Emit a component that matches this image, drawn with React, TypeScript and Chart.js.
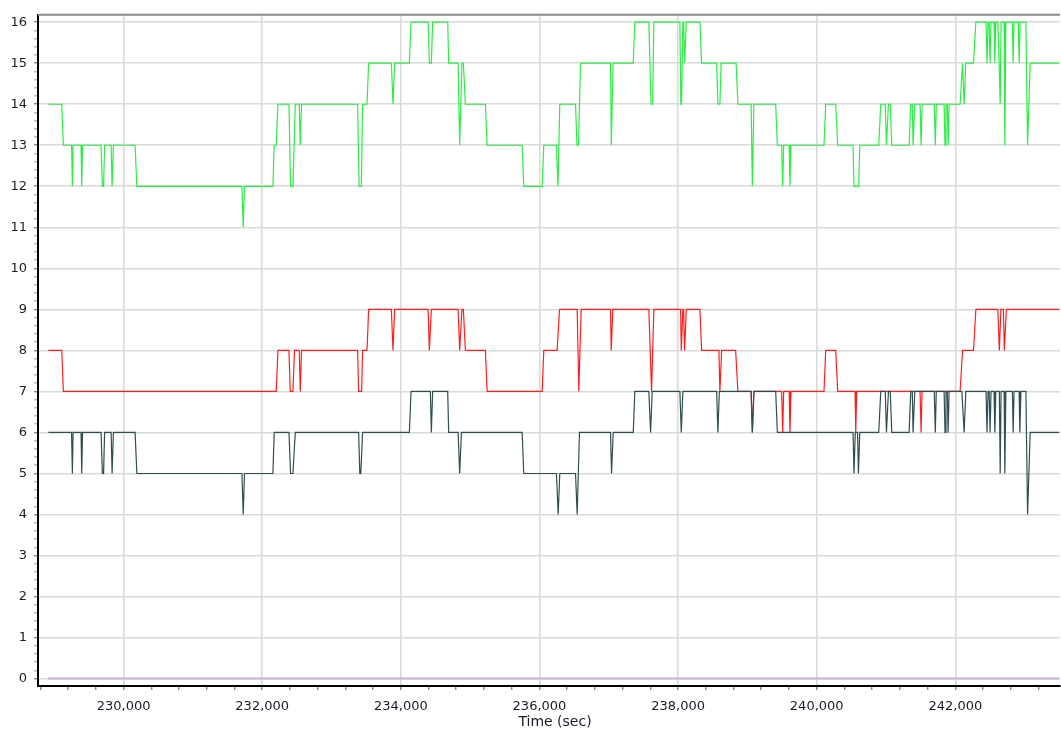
import React, { useEffect, useRef } from "react";
import { Chart, registerables } from "chart.js";

Chart.register(...registerables);

// ---- Data (time in seconds) ----
const greenTimes = [
  228914, 229108, 229131, 229249, 229261, 229271, 229386, 229396, 229408, 229675,
  229694, 229711, 229726, 229820, 229834, 229853, 230166, 230191, 231707, 231726,
  231744, 232154, 232173, 232202, 232227, 232386, 232409, 232443, 232477, 232534,
  232549, 232567, 233376, 233398, 233430, 233448, 233512, 233535, 233863, 233887,
  233910, 234123, 234147, 234393, 234411, 234440, 234459, 234676, 234690, 234826,
  234849, 234881, 234902, 234931, 235220, 235245, 235750, 235773, 236039, 236062,
  236245, 236267, 236293, 236520, 236541, 236563, 236592, 237025, 237037, 237061,
  237353, 237376, 237578, 237610, 237632, 237650, 238026, 238040, 238050, 238069,
  238079, 238094, 238118, 238315, 238339, 238556, 238574, 238603, 238621, 238837,
  238863, 239054, 239071, 239094, 239408, 239432, 239494, 239509, 239523, 239603,
  239614, 239629, 240105, 240130, 240274, 240303, 240524, 240538, 240606, 240621,
  240895, 240924, 240989, 241006, 241035, 241061, 241083, 241333, 241357, 241379,
  241390, 241415, 241491, 241506, 241520, 241696, 241711, 241725, 241838, 241851,
  241865, 241884, 241896, 241910, 242069, 242104, 242127, 242151, 242262, 242296,
  242443, 242457, 242472, 242488, 242501, 242515, 242558, 242570, 242584, 242613,
  242632, 242647, 242660, 242704, 242714, 242729, 242823, 242834, 242847, 242909,
  242921, 242935, 243018, 243042, 243080, 243500,
];
const greenValues = [
  14, 14, 13, 13, 12, 13, 13, 12, 13, 13,
  12, 12, 13, 13, 12, 13, 13, 12, 12, 11,
  12, 12, 13, 13, 14, 14, 12, 12, 14, 14,
  13, 14, 14, 12, 12, 14, 14, 15, 15, 14,
  15, 15, 16, 16, 15, 15, 16, 16, 15, 15,
  13, 15, 15, 14, 14, 13, 13, 12, 12, 13,
  13, 12, 14, 14, 13, 13, 15, 15, 13, 15,
  15, 16, 16, 14, 14, 16, 16, 14, 14, 16,
  16, 15, 16, 16, 15, 15, 14, 14, 15, 15,
  14, 14, 12, 14, 14, 13, 13, 12, 13, 13,
  12, 13, 13, 14, 14, 13, 13, 12, 12, 13,
  13, 14, 14, 13, 14, 14, 13, 13, 14, 14,
  13, 14, 14, 13, 14, 14, 13, 14, 14, 13,
  14, 14, 13, 14, 14, 15, 14, 15, 15, 16,
  16, 15, 16, 16, 15, 16, 16, 15, 16, 16,
  15, 14, 16, 16, 13, 16, 16, 15, 16, 16,
  15, 16, 16, 13, 15, 15,
];

const redTimes = [
  228914, 229108, 229131, 232202, 232227, 232386, 232404, 232443, 232466, 232534,
  232549, 232567, 233376, 233391, 233434, 233448, 233512, 233535, 233863, 233887,
  233910, 234393, 234411, 234440, 234826, 234849, 234881, 234902, 234931, 235220,
  235245, 236039, 236062, 236255, 236289, 236544, 236567, 236602, 237025, 237035,
  237058, 237578, 237617, 237650, 238036, 238046, 238069, 238079, 238094, 238118,
  238315, 238339, 238589, 238603, 238628, 238830, 238863, 239054, 239071, 239094,
  239494, 239509, 239523, 239603, 239614, 239629, 240105, 240130, 240274, 240303,
  240553, 240563, 240577, 241491, 241506, 241520, 242069, 242104, 242262, 242296,
  242613, 242635, 242657, 242693, 242707, 242736, 243500,
];
const redValues = [
  8, 8, 7, 7, 8, 8, 7, 7, 8, 8,
  7, 8, 8, 7, 7, 8, 8, 9, 9, 8,
  9, 9, 8, 9, 9, 8, 9, 9, 8, 8,
  7, 7, 8, 8, 9, 9, 7, 9, 9, 8,
  9, 9, 7, 9, 9, 8, 9, 9, 8, 9,
  9, 8, 8, 7, 8, 8, 7, 7, 6, 7,
  7, 6, 7, 7, 6, 7, 7, 8, 8, 7,
  7, 6, 7, 7, 6, 7, 7, 8, 8, 9,
  9, 8, 9, 9, 8, 9, 9,
];

const slateTimes = [
  228914, 229249, 229261, 229271, 229386, 229396, 229408, 229675, 229694, 229711,
  229726, 229820, 229834, 229853, 230166, 230191, 231707, 231726, 231744, 232154,
  232173, 232386, 232409, 232443, 232477, 233391, 233408, 233422, 233448, 234123,
  234147, 234426, 234440, 234459, 234676, 234690, 234826, 234849, 234874, 235750,
  235773, 236245, 236270, 236293, 236520, 236544, 236577, 237025, 237040, 237064,
  237353, 237376, 237578, 237603, 237627, 238026, 238046, 238069, 238556, 238574,
  238595, 239054, 239071, 239094, 239408, 239432, 240524, 240538, 240556, 240589,
  240602, 240621, 240895, 240924, 240989, 241006, 241035, 241061, 241083, 241333,
  241357, 241379, 241390, 241415, 241696, 241711, 241725, 241838, 241851, 241865,
  241884, 241896, 241910, 242094, 242127, 242151, 242443, 242457, 242472, 242488,
  242501, 242515, 242558, 242570, 242584, 242635, 242647, 242660, 242704, 242714,
  242729, 242823, 242834, 242847, 242920, 242931, 242946, 243018, 243042, 243080,
  243500,
];
const slateValues = [
  6, 6, 5, 6, 6, 5, 6, 6, 5, 5,
  6, 6, 5, 6, 6, 5, 5, 4, 5, 5,
  6, 6, 5, 5, 6, 6, 5, 5, 6, 6,
  7, 7, 6, 7, 7, 6, 6, 5, 6, 6,
  5, 5, 4, 5, 5, 4, 6, 6, 5, 6,
  6, 7, 7, 6, 7, 7, 6, 7, 7, 6,
  7, 7, 6, 7, 7, 6, 6, 5, 6, 6,
  5, 6, 6, 7, 7, 6, 7, 7, 6, 6,
  7, 7, 6, 7, 7, 6, 7, 7, 6, 7,
  7, 6, 7, 7, 6, 7, 7, 6, 7, 7,
  6, 7, 7, 6, 7, 7, 5, 7, 7, 5,
  7, 7, 6, 7, 7, 6, 7, 7, 4, 6,
  6,
];

const purpleTimes = [228914, 243500];
const purpleValues = [0, 0];

// ---- Axes ----
const xMajorTicks = [230000, 232000, 234000, 236000, 238000, 240000, 242000];
const xMinorStep = 400;
const xRange = [228765, 243510];
const yMajorTicks = [0, 1, 2, 3, 4, 5, 6, 7, 8, 9, 10, 11, 12, 13, 14, 15, 16];
const yMinorStep = 0.2;
const yRange = [-0.18, 16.18];
const xTitle = "Time (sec)";

const FONT = "'DejaVu Sans', Verdana, sans-serif";
const TEXT = "#1c1c28";

function toPoints(ts: number[], vs: number[]) {
  return ts.map((t, i) => ({ x: t, y: vs[i] }));
}

function isMajorX(v: number) {
  return xMajorTicks.indexOf(Math.round(v)) >= 0;
}
function isMajorY(v: number) {
  return Math.abs(v - Math.round(v)) < 1e-6;
}

export default function App() {
  const ref = useRef<HTMLCanvasElement | null>(null);

  useEffect(() => {
    if (!ref.current) return;

    const xTickVals: number[] = [];
    for (let v = 228800; v <= 243200; v += xMinorStep) xTickVals.push(v);
    const yTickVals: number[] = [];
    const yMax = yMajorTicks[yMajorTicks.length - 1];
    for (let k = 0; k * yMinorStep <= yMax + 1e-9; k++) {
      yTickVals.push(Math.round(k * yMinorStep * 10) / 10);
    }

    const framePlugin = {
      id: "frameTop",
      afterDraw(chart: any) {
        const { ctx, chartArea } = chart;
        ctx.save();
        ctx.strokeStyle = "#8c8c8c";
        ctx.lineWidth = 2;
        ctx.beginPath();
        ctx.moveTo(chartArea.left, chartArea.top);
        ctx.lineTo(chartArea.right, chartArea.top);
        ctx.stroke();
        // x-axis title
        ctx.fillStyle = TEXT;
        ctx.font = `14px ${FONT}`;
        ctx.textAlign = "center";
        ctx.textBaseline = "middle";
        ctx.fillText(xTitle, (chartArea.left + chartArea.right) / 2 + 6, 722);
        ctx.restore();
      },
    };

    const chart = new Chart(ref.current, {
      type: "line",
      data: {
        datasets: [
          {
            data: toPoints(purpleTimes, purpleValues),
            borderColor: "#c5b2d9",
            borderWidth: 2,
            pointRadius: 0,
            order: 0,
          },
          {
            data: toPoints(slateTimes, slateValues),
            borderColor: "#2f4f4f",
            borderWidth: 1.2,
            pointRadius: 0,
            order: 1,
          },
          {
            data: toPoints(redTimes, redValues),
            borderColor: "#ff1e1e",
            borderWidth: 1.2,
            pointRadius: 0,
            order: 2,
          },
          {
            data: toPoints(greenTimes, greenValues),
            borderColor: "#2ded45",
            borderWidth: 1.2,
            pointRadius: 0,
            order: 3,
          },
        ],
      },
      options: {
        responsive: false,
        animation: false,
        devicePixelRatio: 1,
        layout: { padding: { top: 7, right: 1, left: 0, bottom: 0 } },
        plugins: {
          legend: { display: false },
          tooltip: { enabled: false },
        },
        elements: { line: { tension: 0 } },
        scales: {
          x: {
            type: "linear",
            min: xRange[0],
            max: xRange[1],
            afterBuildTicks: (axis: any) => {
              axis.ticks = xTickVals.map((v) => ({ value: v }));
            },
            afterFit: (s: any) => {
              s.height = 47;
            },
            ticks: {
              autoSkip: false,
              maxRotation: 0,
              padding: 9,
              color: TEXT,
              font: { family: FONT, size: 13 },
              callback: (v: any) =>
                isMajorX(Number(v)) ? Number(v).toLocaleString("en-US") : "",
            },
            grid: {
              color: (c: any) => (isMajorX(c.tick.value) ? "#dadada" : "rgba(0,0,0,0)"),
              lineWidth: 1.6,
              tickColor: "#555",
              tickLength: 4,
              tickWidth: 1,
            },
            border: { color: "#000", width: 2 },
            title: { display: false },
          },
          y: {
            type: "linear",
            min: yRange[0],
            max: yRange[1],
            afterBuildTicks: (axis: any) => {
              axis.ticks = yTickVals.map((v) => ({ value: v }));
            },
            afterFit: (s: any) => {
              s.width = 38;
            },
            ticks: {
              autoSkip: false,
              padding: 7,
              color: TEXT,
              font: { family: FONT, size: 13 },
              callback: (v: any) =>
                isMajorY(Number(v)) ? String(Math.round(Number(v))) : "",
            },
            grid: {
              color: (c: any) => (isMajorY(c.tick.value) ? "#dadada" : "rgba(0,0,0,0)"),
              lineWidth: 1.6,
              tickColor: (c: any) => (isMajorY(c.tick.value) ? "#555" : "#9a9a9a"),
              tickLength: 4,
              tickWidth: 1,
            },
            border: { color: "#000", width: 2 },
          },
        },
      },
      plugins: [framePlugin],
    } as any);

    return () => chart.destroy();
  }, []);

  return (
    <div style={{ position: "absolute", left: 0, top: 0, width: 1061, height: 733, background: "#fff" }}>
      <canvas ref={ref} width={1061} height={733} style={{ display: "block" }} />
    </div>
  );
}
